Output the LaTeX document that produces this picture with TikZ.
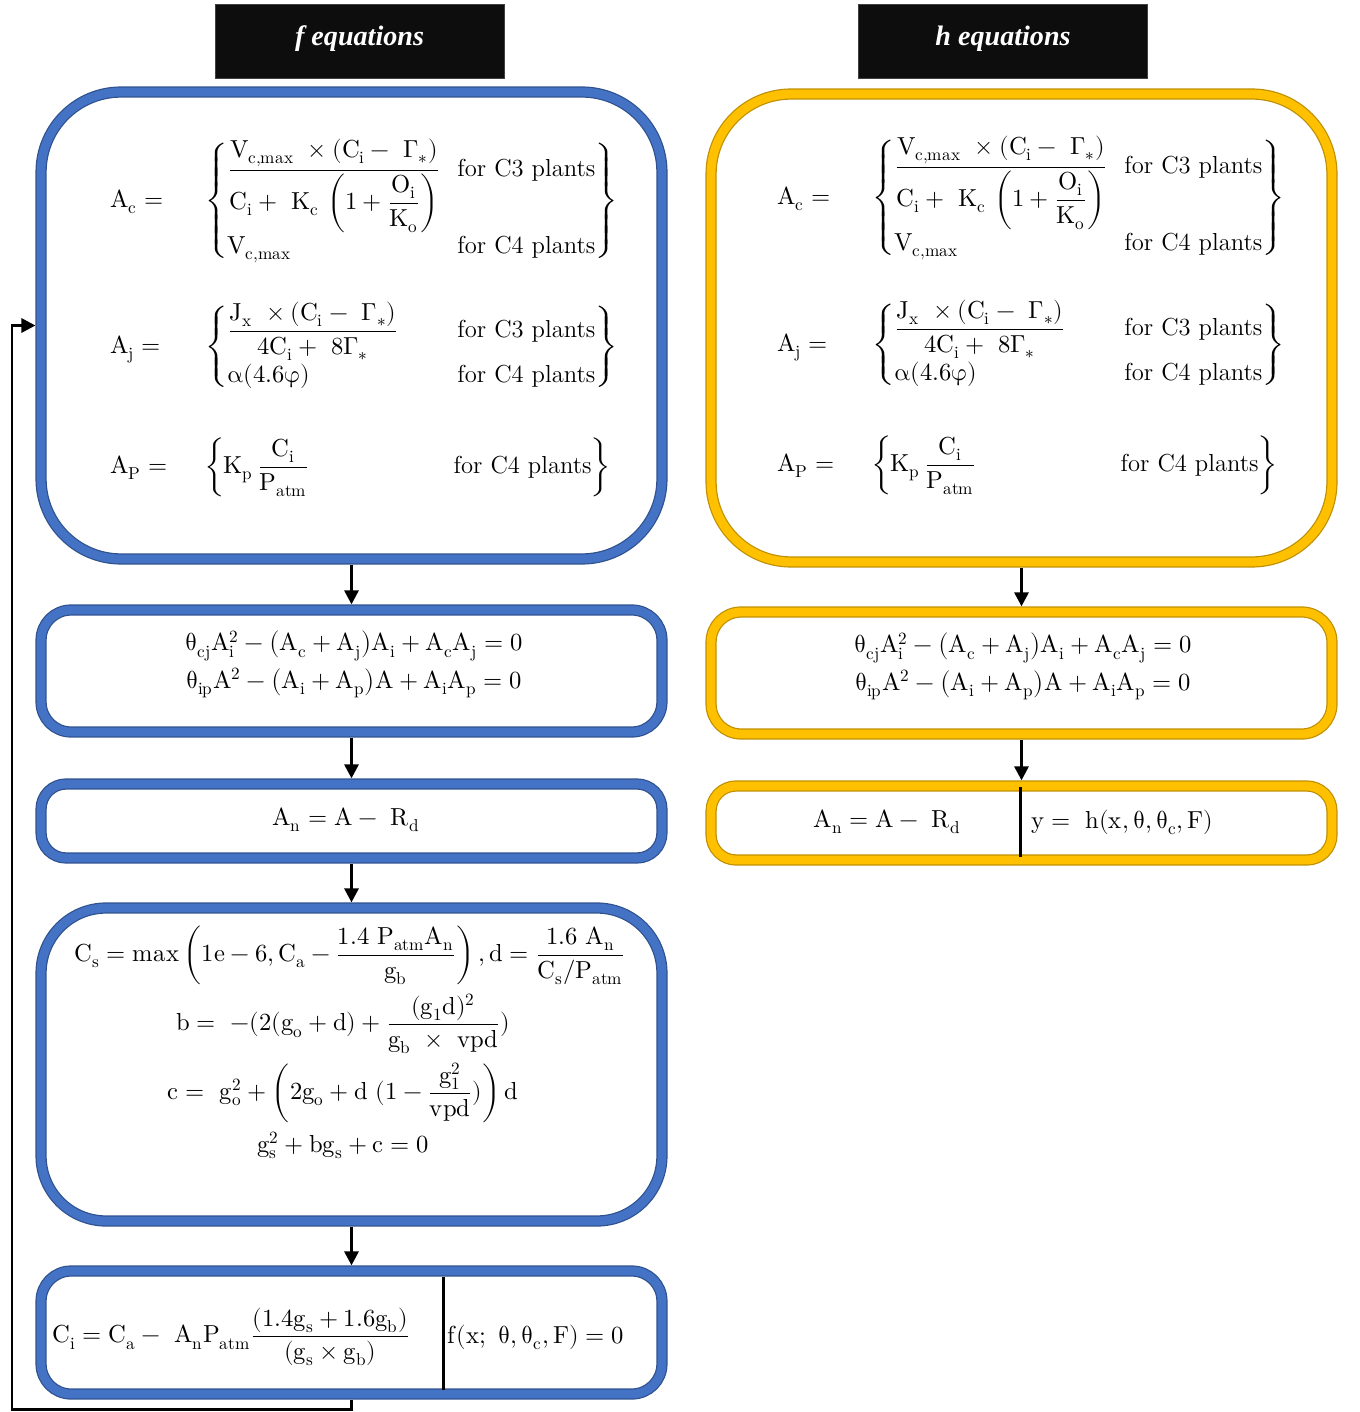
\documentclass[tikz,border=0pt]{standalone}
\usepackage{amsmath}
\usepackage{fontspec}
\usepackage[math-style=upright]{unicode-math}
\usepackage{tikz}
\usetikzlibrary{arrows.meta,positioning}
\newfontfamily\headfont{Liberation Serif}
\definecolor{fblue}{HTML}{4472C4}
\definecolor{fedge}{HTML}{2F528F}
\definecolor{hyellow}{HTML}{FFC000}
\definecolor{hedge}{HTML}{BF9000}
\newcommand{\lhs}[1]{\makebox[1.9cm][l]{$#1$}}
\newcommand{\lcol}[1]{\makebox[4.6cm][l]{$\displaystyle #1$}}
\newcommand{\eqAc}{\lhs{A_c =}$\left\{\begin{array}{@{}l@{}l@{}}
  \lcol{\frac{V_{c,max}\ \times (C_i -\ \Gamma_*)}{C_i +\ K_c\,\left(1 + \dfrac{O_i}{K_o}\right)}} & \text{for C3 plants}\\[12pt]
  \lcol{V_{c,max}} & \text{for C4 plants}
  \end{array}\right\}$}
\newcommand{\eqAj}{\lhs{A_j =}$\left\{\begin{array}{@{}l@{}l@{}}
  \lcol{\frac{J_x\ \times (C_i -\ \Gamma_*)}{4C_i +\ 8\Gamma_*}} & \text{for C3 plants}\\[9pt]
  \lcol{\alpha(4.6\varphi)} & \text{for C4 plants}
  \end{array}\right\}$}
\newcommand{\eqAp}{\lhs{A_P =}$\left\{\lcol{K_p\,\frac{C_i}{P_{atm}}}\text{for C4 plants}\right\}$}
\newcommand{\eqTh}{$\theta_{cj}A_i^2 - \bigl(A_c + A_j\bigr)A_i + A_cA_j = 0$\\[3pt]
  $\theta_{ip}A^2 - \bigl(A_i + A_p\bigr)A + A_iA_p = 0$}
\tikzset{
    fbox/.style={draw=fedge, double=fblue, line width=0.7pt, double distance=5pt, outer sep=3.2pt, minimum width=12.42cm},
    hbox/.style={draw=hedge, double=hyellow, line width=0.7pt, double distance=5pt, outer sep=3.2pt, minimum width=12.42cm},
    title/.style={fill=black!95, draw=black!75, text=white, minimum width=5.78cm, minimum height=1.48cm, font=\headfont\bfseries\itshape\fontsize{16}{19}\selectfont},
    eqn/.style={inner sep=0pt, align=center, font=\fontsize{14}{17}\selectfont},
    flow/.style={draw, line width=1.7pt, -{Triangle[length=8pt,width=8pt]}},
    divider/.style={draw, line width=1.7pt}
}
\begin{document}
\begin{tikzpicture}[x=0.02cm, y=-0.02cm]
    \useasboundingbox (0,0) rectangle (1359,1412);
    % Titles
    \node[title] (fT) at (359.5,41) {\raisebox{6pt}{f equations}};
    \node[title] (hT) at (1003,41) {\raisebox{6pt}{h equations}};

    % f boxes
    \node[fbox, minimum height=9.34cm, rounded corners=1.6cm] (fA) at (351.5,325.5) {};
    \node[fbox, minimum height=2.44cm, rounded corners=0.6cm] (fB) at (351.5,671) {};
    \node[fbox, minimum height=1.48cm, rounded corners=0.5cm] (fC) at (351.5,821) {};
    \node[fbox, minimum height=6.26cm, rounded corners=1.3cm] (fD) at (351.5,1064.5) {};
    \node[fbox, minimum height=2.46cm, rounded corners=0.6cm] (fE) at (351.5,1332.5) {};

    % h boxes
    \node[hbox, minimum height=9.36cm, rounded corners=1.6cm] (hA) at (1021.5,328) {};
    \node[hbox, minimum height=2.44cm, rounded corners=0.6cm] (hB) at (1021.5,673) {};
    \node[hbox, minimum height=1.48cm, rounded corners=0.5cm] (hC) at (1021.5,823) {};

    % f equations
    \node[eqn, anchor=west] (fAc) at (110,201) {\eqAc};
    \node[eqn, anchor=west] (fAj) at (110,347) {\eqAj};
    \node[eqn, anchor=west] (fAp) at (110,467) {\eqAp};
    \node[eqn] (fTh) at (354,664) {\eqTh};
    \node[eqn] (fAn) at (346,820) {$A_n = A -\ R_d$};
    \node[eqn] (fCs) at (350,955) {$C_s = max\left(1e - 6, C_a - \dfrac{1.4\ P_{atm}A_n}{g_b}\right), d = \dfrac{1.6\ A_n}{C_s/P_{atm}}$};
    \node[eqn] (fb) at (343,1024) {$b =\ -(2(g_o + d) + \dfrac{(g_1d)^2}{g_b\ \times\ vpd})$};
    \node[eqn] (fc) at (343,1093) {$c =\ g_o^2 + \left(2g_o + d\ (1 - \dfrac{g_1^2}{vpd})\right)d$};
    \node[eqn] (fgs) at (343,1145) {$g_s^2 + bg_s + c = 0$};
    \node[eqn, anchor=west] (fCi) at (52,1337) {$C_i = C_a -\ A_nP_{atm}\dfrac{(1.4g_s + 1.6g_b)}{(g_s \times g_b)}$};
    \node[eqn, anchor=west] (fF) at (447,1337) {$f(x;\ \theta, \theta_c, F) = 0$};

    % h equations
    \node[eqn, anchor=west] (hAc) at (777,198) {\eqAc};
    \node[eqn, anchor=west] (hAj) at (777,345) {\eqAj};
    \node[eqn, anchor=west] (hAp) at (777,465) {\eqAp};
    \node[eqn] (hTh) at (1023,666) {\eqTh};
    \node[eqn] (hAn) at (887,822) {$A_n = A -\ R_d$};
    \node[eqn, anchor=west] (hy) at (1031,822) {$y =\ h(x, \theta, \theta_c, F)$};

    % dividers
    \coordinate (fEt) at (443,1277);
    \coordinate (fEb) at (443,1390);
    \coordinate (hCt) at (1020,787);
    \coordinate (hCb) at (1020,857);
    \draw[divider] (fEt) -- (fEb);
    \draw[divider] (hCt) -- (hCb);

    % edges
    \draw[flow] (fA) -- (fB);
    \draw[flow] (fB) -- (fC);
    \draw[flow] (fC) -- (fD);
    \draw[flow] (fD) -- (fE);
    \draw[flow] (hA) -- (hB);
    \draw[flow] (hB) -- (hC);
    \coordinate (lp) at (12,1409);
    \draw[flow] (fE.south) |- (lp) |- (fA.west);
\end{tikzpicture}
\end{document}
